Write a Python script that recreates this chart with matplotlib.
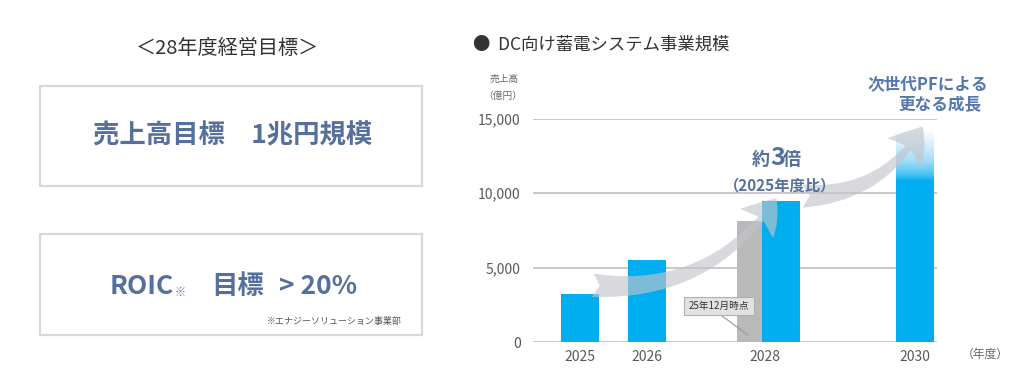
import numpy as np
import matplotlib.pyplot as plt
from matplotlib.patches import Rectangle, FancyArrowPatch
from matplotlib.colors import LinearSegmentedColormap

plt.rcParams['font.family'] = ['Noto Sans CJK JP', 'DejaVu Sans']

# データ（億円）
years = ['2025', '2026', '2028', '2030']
sales = [3200, 5500, 9500, 14300]
forecast_2028_dec25 = 8100
yticks = [0, 5000, 10000, 15000]
ytick_labels = ['0', '5,000', '10,000', '15,000']

BLUE = '#00AEEF'
GRAY_BAR = '#b9b9b9'
NAVY = '#56709e'
GRID = '#c8c8c8'

W, H = 1024, 391
fig = plt.figure(figsize=(W / 100, H / 100), dpi=100)
fig.patch.set_facecolor('white')


def fx(x):
    return x / W


def fy(y):
    return 1 - y / H


# ---- 左側パネル ----
fig.text(fx(228), fy(48), '＜28年度経営目標＞', ha='center', va='center',
         fontsize=14.5, color='#333333')

for top, bot in [(86, 186), (234, 335)]:
    fig.add_artist(Rectangle((fx(40), fy(bot)), fx(422) - fx(40), fy(top) - fy(bot),
                             transform=fig.transFigure, fill=False,
                             edgecolor='#d8d8d8', linewidth=1.6))

fig.text(fx(233), fy(136), '売上高目標　1兆円規模', ha='center', va='center',
         fontsize=19, fontweight='bold', color=NAVY)

fig.text(fx(110), fy(287), 'ROIC', ha='left', va='center',
         fontsize=19, fontweight='bold', color=NAVY)
fig.text(fx(174), fy(292), '※', ha='left', va='center',
         fontsize=8, fontweight='bold', color=NAVY)
fig.text(fx(211), fy(286), '目標', ha='left', va='center',
         fontsize=19, fontweight='bold', color=NAVY)
fig.text(fx(279), fy(287), '> 20%', ha='left', va='center',
         fontsize=19, fontweight='bold', color=NAVY)
fig.text(fx(402), fy(321), '※エナジーソリューション事業部', ha='right', va='center',
         fontsize=6.5, color='#555555')

# ---- 右側グラフ ----
fig.text(fx(473), fy(45), '●  DC向け蓄電システム事業規模', ha='left', va='center',
         fontsize=12.5, color='#333333')

ax = fig.add_axes([fx(533), fy(342), fx(937) - fx(533), fy(118.7) - fy(342)])
slot = [0, 1, 2.76, 5.0]
ax.set_xlim(-0.705, 5.325)
ax.set_ylim(0, 15000)

bw = 0.56
ax.bar(slot[0], sales[0], width=bw, color=BLUE, zorder=3)
ax.bar(slot[1], sales[1], width=bw, color=BLUE, zorder=3)
ax.bar(slot[2] - 0.04, forecast_2028_dec25, width=-0.38, align='edge',
       color=GRAY_BAR, zorder=3)
ax.bar(slot[2] - 0.04, sales[2], width=bw, align='edge', color=BLUE, zorder=3)
b30 = ax.bar(slot[3], sales[3], width=bw, color=BLUE, zorder=3, clip_on=False)[0]

# 2030年のグラデーション（上に向かって白く）
fade = LinearSegmentedColormap.from_list('fade', [BLUE, '#9fdcf6', 'white'])
grad = np.linspace(0, 1, 256).reshape(-1, 1)
grad = np.clip((grad - 0.76) / 0.24, 0, 1) ** 0.7
im = ax.imshow(grad, cmap=fade, vmin=0, vmax=1, origin='lower', aspect='auto',
               extent=[slot[3] - bw / 2, slot[3] + bw / 2, 0, sales[3]], zorder=4)
im.set_clip_path(b30)
ax.set_xlim(-0.705, 5.325)
ax.set_ylim(0, 15000)

for v in yticks:
    ax.axhline(v, color=GRID, linewidth=1.4, zorder=1)

for s in ax.spines.values():
    s.set_visible(False)
ax.set_yticks(yticks)
ax.set_yticklabels(ytick_labels)
ax.set_xticks(slot)
ax.set_xticklabels(years)
ax.tick_params(length=0, labelsize=10, colors='#595959', pad=6)
ax.tick_params(axis='y', pad=9)
ax.set_facecolor('none')

fig.text(fx(504), fy(79), '売上高', ha='center', va='center', fontsize=7, color='#666666')
fig.text(fx(503), fy(96), '（億円）', ha='center', va='center', fontsize=7, color='#666666')
fig.text(fx(985), fy(354), '（年度）', ha='center', va='center', fontsize=8.5, color='#666666')

# 注記ボックス
fig.add_artist(plt.Line2D([fx(722), fx(748)], [fy(316), fy(335)],
                          transform=fig.transFigure, color='#999999', linewidth=0.8))
fig.text(fx(719), fy(306), '25年12月時点', ha='center', va='center', fontsize=7,
         color='#333333',
         bbox=dict(boxstyle='square,pad=0.45', facecolor='#e2e2e2', edgecolor='#b0b0b0',
                   linewidth=0.8))

# 成長の矢印
for (x1, y1), (x2, y2) in [((590, 285), (778, 196)), ((800, 196), (924, 124))]:
    arr = FancyArrowPatch((fx(x1), fy(y1)), (fx(x2), fy(y2)), transform=fig.transFigure,
                          connectionstyle='arc3,rad=0.3',
                          arrowstyle='fancy,head_width=1.5,head_length=1.1,tail_width=0.8',
                          mutation_scale=21, color='#c2c5cb', alpha=0.65, linewidth=0)
    fig.add_artist(arr)

fig.text(fx(770), fy(160), '約', ha='right', va='center', fontsize=13,
         fontweight='bold', color=NAVY)
fig.text(fx(770), fy(158), '3', ha='left', va='center', fontsize=18,
         fontweight='bold', color=NAVY)
fig.text(fx(783), fy(160), '倍', ha='left', va='center', fontsize=13,
         fontweight='bold', color=NAVY)
fig.text(fx(780), fy(185), '（2025年度比）', ha='center', va='center', fontsize=11,
         fontweight='bold', color=NAVY)

fig.text(fx(928), fy(84), '次世代PFによる', ha='center', va='center', fontsize=12,
         fontweight='bold', color='#5577b0')
fig.text(fx(940), fy(105), '更なる成長', ha='center', va='center', fontsize=12,
         fontweight='bold', color='#5577b0')

fig.savefig('out.png', dpi=100, facecolor='white')
